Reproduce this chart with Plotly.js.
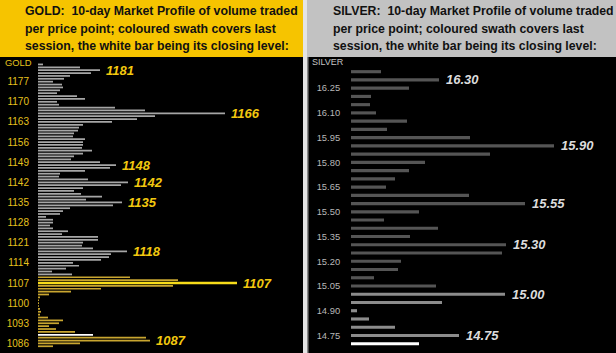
<!DOCTYPE html>
<html><head><meta charset="utf-8">
<script src="https://cdn.plot.ly/plotly-3.0.1.min.js"></script>
<style>html,body{margin:0;padding:0;background:#000;}#chart{width:616px;height:353px;}</style>
</head><body><div id="chart"></div>
<script>
// ---------- GOLD data (price point -> 10-day volume, arbitrary units) ----------
const goldPrices = [1183,1182,1181,1180,1179,1178,1177,1176,1175,1174,1173,1172,1171,1170,1169,1168,1167,1166,1165,1164,1163,1162,1161,1160,1159,1158,1157,1156,1155,1154,1153,1152,1151,1150,1149,1148,1147,1146,1145,1144,1143,1142,1141,1140,1139,1138,1137,1136,1135,1134,1133,1132,1131,1130,1129,1128,1127,1126,1125,1124,1123,1122,1121,1120,1119,1118,1117,1116,1115,1114,1113,1112,1111,1110,1109,1108,1107,1106,1105,1104,1103,1102,1101,1100,1099,1098,1097,1096,1095,1094,1093,1092,1091,1090,1089,1088,1087,1086,1085];
const goldVolume = [5,42,62,53,32,26,15,24,25,22,19,39,47,19,21,77,107,187,117,99,74,45,41,40,36,35,47,45,45,44,54,45,36,33,62,78,72,47,22,21,50,90,83,45,36,43,64,48,84,75,32,25,22,8,15,15,12,15,30,24,60,60,45,44,55,89,73,71,63,35,41,28,14,34,92,140,199,135,63,33,11,2,1,1,1,2,3,2,10,25,21,11,18,37,55,108,112,42,15];
const goldSessionLow = 1085, goldSessionHigh = 1109, goldClose = 1089, goldSessionPeak = 1107;
const goldTickVals = [1086,1093,1100,1107,1114,1121,1128,1135,1142,1149,1156,1163,1170,1177];
const goldLabels = [1181,1166,1148,1142,1135,1118,1107,1087];

// ---------- SILVER data ----------
const silverPrices = [16.35,16.30,16.25,16.20,16.15,16.10,16.05,16.00,15.95,15.90,15.85,15.80,15.75,15.70,15.65,15.60,15.55,15.50,15.45,15.40,15.35,15.30,15.25,15.20,15.15,15.10,15.05,15.00,14.95,14.90,14.85,14.80,14.75,14.70];
const silverVolume = [30,88,58,20,19,25,56,36,119,203,139,74,58,44,35,118,174,68,33,87,59,155,151,50,47,23,85,154,91,6,18,44,108,68];
const silverSessionLow = 14.70, silverSessionHigh = 15.00, silverClose = 14.70;
const silverTickVals = [14.75,14.90,15.05,15.20,15.35,15.50,15.65,15.80,15.95,16.10,16.25];
const silverLabels = [16.30,15.90,15.55,15.30,15.00,14.75];

const headerLine2 = "per price point; coloured swath covers last";
const headerLine3 = "session, the white bar being its closing level:";

// ---------- layout helpers ----------
const W = 616, H = 353;
const px = x => x / W;
const py = y => 1 - y / H;
const FONT = "'Liberation Sans', Arial, sans-serif";

const goldColors = goldPrices.map(p => p === goldClose ? '#ffffff' : (p === goldSessionPeak ? '#f7dc1a' : (p >= goldSessionLow && p <= goldSessionHigh ? '#c9a630' : '#a6a6a6')));
const goldWidths = goldPrices.map(p => p === goldSessionPeak ? 0.85 : 0.6);
const silverColors = silverPrices.map(p => Math.abs(p - silverClose) < 1e-9 ? '#ffffff' : (p >= silverSessionLow - 1e-9 && p <= silverSessionHigh + 1e-9 ? '#8c8c8c' : '#555555'));

const traces = [
  {type:'bar', orientation:'h', y:goldPrices, x:goldVolume, marker:{color:goldColors}, width:goldWidths, xaxis:'x', yaxis:'y', hoverinfo:'none'},
  {type:'bar', orientation:'h', y:silverPrices, x:silverVolume, marker:{color:silverColors}, width:0.019, xaxis:'x2', yaxis:'y2', hoverinfo:'none'}
];

const annotations = [];
function hdr(text, x, y) {
  annotations.push({xref:'paper', yref:'paper', x:px(x), y:py(y), xanchor:'left', yanchor:'middle', showarrow:false, text:text,
    font:{family:FONT, size:12.3, weight:'bold', color:'#111111'}});
}
hdr("GOLD:\u00a0 10-day Market Profile of volume traded", 22.7, 11.5);
hdr(headerLine2, 22.7, 29);
hdr(headerLine3, 22.7, 46.5);
hdr("SILVER:\u00a0 10-day Market Profile of volume traded", 330.7, 11.5);
hdr(headerLine2, 330.7, 29);
hdr(headerLine3, 330.7, 46.5);

annotations.push({xref:'paper', yref:'paper', x:px(3), y:py(62), xanchor:'left', yanchor:'middle', showarrow:false, text:'GOLD', font:{family:FONT, size:9.4, color:'#e6c21e'}});
annotations.push({xref:'paper', yref:'paper', x:px(310), y:py(62), xanchor:'left', yanchor:'middle', showarrow:false, text:'SILVER', font:{family:FONT, size:9, color:'#c4c4c4'}});

goldLabels.forEach(p => {
  const v = goldVolume[goldPrices.indexOf(p)];
  annotations.push({xref:'x', yref:'y', x:v, y:p, xanchor:'left', yanchor:'middle', xshift:4, showarrow:false, text:String(p),
    font:{family:FONT, size:13, weight:'bold', style:'italic', color:'#f2c80f'}});
});
silverLabels.forEach(p => {
  const i = silverPrices.findIndex(q => Math.abs(q - p) < 1e-9);
  annotations.push({xref:'x2', yref:'y2', x:silverVolume[i], y:p, xanchor:'left', yanchor:'middle', xshift:5, showarrow:false, text:p.toFixed(2),
    font:{family:FONT, size:13, weight:'bold', style:'italic', color:'#dcdcdc'}});
});

const shapes = [
  {type:'rect', xref:'paper', yref:'paper', x0:0, x1:px(303), y0:py(57), y1:1, fillcolor:'#f6c400', line:{width:0}, layer:'below'},
  {type:'rect', xref:'paper', yref:'paper', x0:px(303), x1:px(307), y0:0, y1:1, fillcolor:'#e4e4e4', line:{width:0}, layer:'below'},
  {type:'rect', xref:'paper', yref:'paper', x0:px(307), x1:1, y0:py(57), y1:1, fillcolor:'#c2c2c2', line:{width:0}, layer:'below'},
  {type:'rect', xref:'paper', yref:'paper', x0:px(307), x1:px(308.5), y0:0, y1:py(57), fillcolor:'#8a8a8a', line:{width:0}, layer:'below'}
];

const layout = {
  width:W, height:H, margin:{l:0,r:0,t:0,b:0,pad:0},
  paper_bgcolor:'#000', plot_bgcolor:'rgba(0,0,0,0)', showlegend:false,
  xaxis:{domain:[px(38), px(303)], range:[0,265], visible:false, fixedrange:true},
  yaxis:{domain:[0, py(58)], range:[1082.66, 1185.23], anchor:'x', showgrid:false, zeroline:false, showline:false,
    tickmode:'array', tickvals:goldTickVals, ticktext:goldTickVals.map(String), ticks:'outside', ticklen:6, tickcolor:'rgba(0,0,0,0)',
    tickfont:{family:FONT, size:10, color:'#e6c21e'}, fixedrange:true},
  xaxis2:{domain:[px(351), 1], range:[0,265], visible:false, anchor:'y2', fixedrange:true},
  yaxis2:{domain:[0, py(58)], range:[14.6436, 16.433], anchor:'x2', showgrid:false, zeroline:false, showline:false,
    tickmode:'array', tickvals:silverTickVals, ticktext:silverTickVals.map(v => v.toFixed(2)), ticks:'outside', ticklen:8, tickcolor:'rgba(0,0,0,0)',
    tickfont:{family:FONT, size:9.4, color:'#b8b8b8'}, fixedrange:true},
  annotations:annotations, shapes:shapes
};

Plotly.newPlot('chart', traces, layout, {staticPlot:true, displayModeBar:false});
</script></body></html>
